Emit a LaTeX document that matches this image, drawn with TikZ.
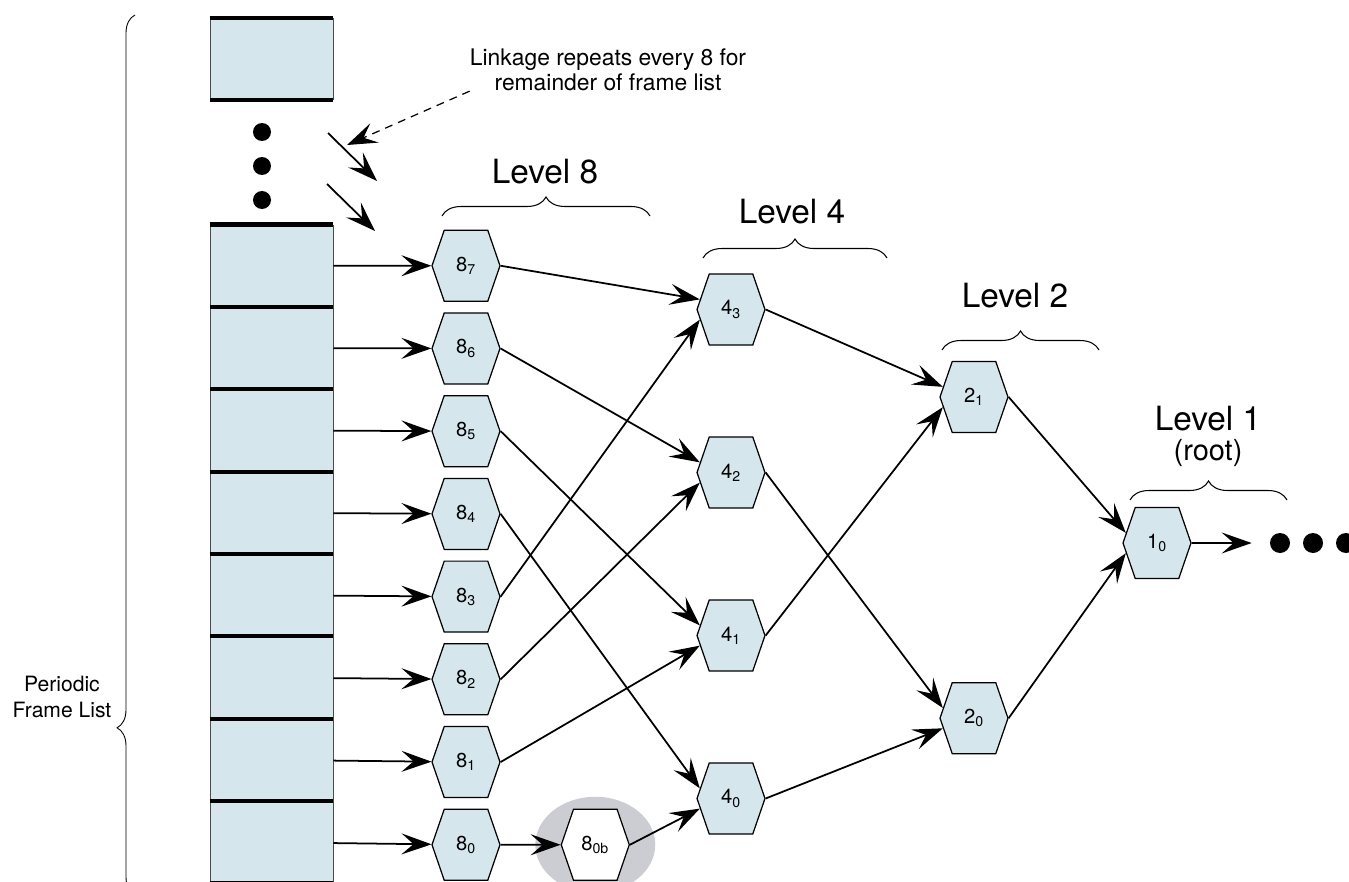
\documentclass[tikz,border=0pt]{standalone}
\usepackage{fontspec}
\setmainfont{TeX Gyre Heros}
\usetikzlibrary{positioning,arrows.meta,shapes.symbols,decorations.pathreplacing,backgrounds}
\definecolor{framefill}{RGB}{213, 230, 236}
\definecolor{lumpgray}{RGB}{203, 205, 210}

\begin{document}
\begin{tikzpicture}[x=0.02cm, y=-0.02cm,
    framebox/.style={rectangle, draw=black!70, line width=0.5pt, fill=framefill,
                     minimum width=2.46cm, minimum height=1.63cm, inner sep=0pt},
    bar/.style={line width=2.4pt, black},
    qh/.style={signal, signal to=west and east, signal pointer angle=142,
               draw=black, line width=0.7pt, fill=framefill,
               minimum width=1.36cm, minimum height=1.42cm, inner sep=0pt,
               font=\fontsize{11.5}{13}\selectfont},
    levellabel/.style={font=\fontsize{19}{22}\selectfont},
    levelbrace/.style={decorate, decoration={brace, amplitude=0.38cm}, line width=0.6pt},
    dot/.style={circle, fill=black, minimum size=0.36cm, inner sep=0pt},
    arrow/.style={-{Stealth[length=0.6cm, width=0.42cm, inset=0.24cm]}, line width=1pt},
    note/.style={font=\fontsize{13}{14}\selectfont, align=center, inner sep=0pt}
]
\useasboundingbox (0,0) rectangle (1349,882);

% frame list
\node[framebox] (ftop) at (271.5,59) {};
\node[framebox] (f7) at (271.5,265.75) {};
\node[framebox, below=0cm of f7] (f6) {};
\node[framebox, below=0cm of f6] (f5) {};
\node[framebox, below=0cm of f5] (f4) {};
\node[framebox, below=0cm of f4] (f3) {};
\node[framebox, below=0cm of f3] (f2) {};
\node[framebox, below=0cm of f2] (f1) {};
\node[framebox, below=0cm of f1] (f0) {};
\draw[bar] (ftop.north west) -- (ftop.north east);
\draw[bar] (ftop.south west) -- (ftop.south east);
\draw[bar] (f7.north west) -- (f7.north east);
\draw[bar] (f6.north west) -- (f6.north east);
\draw[bar] (f5.north west) -- (f5.north east);
\draw[bar] (f4.north west) -- (f4.north east);
\draw[bar] (f3.north west) -- (f3.north east);
\draw[bar] (f2.north west) -- (f2.north east);
\draw[bar] (f1.north west) -- (f1.north east);
\draw[bar] (f0.north west) -- (f0.north east);
\draw[bar] (f0.south west) -- (f0.south east);

\node[dot] (vd1) at (262,132) {};
\node[dot] (vd2) at (262,166) {};
\node[dot] (vd3) at (262,200) {};

\draw[decorate, decoration={brace, amplitude=0.36cm, aspect=0.19}, line width=0.5pt]
    (135,895) -- (135,15);
\node[note, font=\fontsize{12}{14.5}\selectfont] (pfl) at (62,697) {Periodic\\Frame List};

% level 8
\node[qh] (h87) at (466,265.75) {8\textsubscript{7}};
\node[qh, below=0.21cm of h87] (h86) {8\textsubscript{6}};
\node[qh, below=0.21cm of h86] (h85) {8\textsubscript{5}};
\node[qh, below=0.21cm of h85] (h84) {8\textsubscript{4}};
\node[qh, below=0.21cm of h84] (h83) {8\textsubscript{3}};
\node[qh, below=0.21cm of h83] (h82) {8\textsubscript{2}};
\node[qh, below=0.21cm of h82] (h81) {8\textsubscript{1}};
\node[qh, below=0.21cm of h81] (h80) {8\textsubscript{0}};
\node[qh, fill=white, right=1.2cm of h80] (h80b) {8\textsubscript{0b}};
\begin{scope}[on background layer]
\fill[lumpgray] (h80b) ellipse [x radius=1.2cm, y radius=0.96cm];
\end{scope}

% level 4
\node[qh] (h43) at (731,309.5) {4\textsubscript{3}};
\node[qh, below=1.816cm of h43] (h42) {4\textsubscript{2}};
\node[qh, below=1.816cm of h42] (h41) {4\textsubscript{1}};
\node[qh, below=1.816cm of h41] (h40) {4\textsubscript{0}};

% level 2 and root
\node[qh] (h21) at (974,397) {2\textsubscript{1}};
\node[qh, below=4.98cm of h21] (h20) {2\textsubscript{0}};
\node[qh] (h10) at (1157,543) {1\textsubscript{0}};

\node[dot, minimum size=0.4cm] (rd1) at (1280,543) {};
\node[dot, minimum size=0.4cm] (rd2) at (1313,543) {};
\node[dot, minimum size=0.4cm] (rd3) at (1346,543) {};

% level labels
\node[levellabel] (lvl8) at (545,172) {Level 8};
\node[levellabel] (lvl4) at (792,212) {Level 4};
\node[levellabel] (lvl2) at (1015,296) {Level 2};
\node[levellabel] (lvl1) at (1208,419) {Level 1};
\node[font=\fontsize{16.5}{18}\selectfont] (root) at (1208,453) {(root)};
\draw[levelbrace] (442,216) -- (650,216);
\draw[levelbrace] (703,258) -- (887,258);
\draw[levelbrace] (942,350) -- (1099,350);
\draw[levelbrace] (1130,500) -- (1287,500);

% linkage note
\node[note] (linkage) at (608,70) {Linkage repeats every 8 for\\remainder of frame list};
\coordinate (linkend) at (347,145);
\draw[arrow, line width=0.7pt, dash pattern=on 4.5pt off 3.5pt] (linkage.south west) -- (linkend);
\coordinate (s1) at (328,133);
\coordinate (e1) at (377,181);
\coordinate (s2) at (327,184);
\coordinate (e2) at (375,231);
\draw[arrow] (s1) -- (e1);
\draw[arrow] (s2) -- (e2);

% frame list to level 8
\draw[arrow] (f7) -- (h87);
\draw[arrow] (f6) -- (h86);
\draw[arrow] (f5) -- (h85);
\draw[arrow] (f4) -- (h84);
\draw[arrow] (f3) -- (h83);
\draw[arrow] (f2) -- (h82);
\draw[arrow] (f1) -- (h81);
\draw[arrow] (f0) -- (h80);

% level 8 to level 4
\draw[arrow] (h87.east) -- (h43.162);
\draw[arrow] (h83.east) -- (h43.198);
\draw[arrow] (h86.east) -- (h42.162);
\draw[arrow] (h82.east) -- (h42.198);
\draw[arrow] (h85.east) -- (h41.162);
\draw[arrow] (h81.east) -- (h41.198);
\draw[arrow] (h84.east) -- (h40.162);
\draw[arrow] (h80) -- (h80b);
\draw[arrow] (h80b.east) -- (h40.198);

% level 4 to level 2
\draw[arrow] (h43.east) -- (h21.162);
\draw[arrow] (h41.east) -- (h21.198);
\draw[arrow] (h42.east) -- (h20.162);
\draw[arrow] (h40.east) -- (h20.198);

% level 2 to root
\draw[arrow] (h21.east) -- (h10.162);
\draw[arrow] (h20.east) -- (h10.198);
\draw[arrow, shorten >=0.36cm] (h10) -- (rd1);
\end{tikzpicture}
\end{document}
